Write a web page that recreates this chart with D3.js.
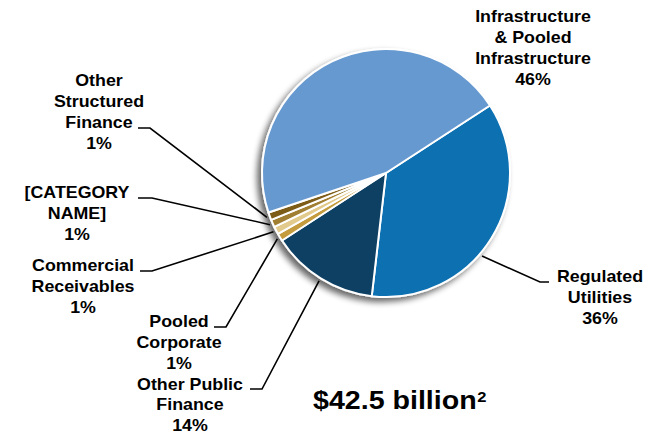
<!DOCTYPE html>
<html>
<head>
<meta charset="utf-8">
<script src="https://cdn.jsdelivr.net/npm/d3@7"></script>
<style>
  html, body { margin: 0; padding: 0; background: #fff; }
  svg { display: block; }
  text { font-family: "Liberation Sans", Arial, sans-serif; font-weight: bold; fill: #000; }
</style>
</head>
<body>
<svg id="chart" width="659" height="435"></svg>
<script>
// Portfolio composition, clockwise from the Regulated Utilities wedge
const categories = [
  "Regulated Utilities",
  "Other Public Finance",
  "Pooled Corporate",
  "Commercial Receivables",
  "[CATEGORY NAME]",
  "Other Structured Finance",
  "Infrastructure & Pooled Infrastructure"
];
const shares = [36, 14, 1, 1, 1, 1, 46];
const sliceColors = ["#0A6FB1", "#0C4064", "#C49B3D", "#E2CA8C", "#A07E31", "#7C5C19", "#6699D0"];
const totalLabel = "$42.5 billion";
const totalNote = "2";

// Label text lines (the share is appended as the last line)
const labelLines = [
  ["Regulated", "Utilities"],
  ["Other Public", "Finance"],
  ["Pooled", "Corporate"],
  ["Commercial", "Receivables"],
  ["[CATEGORY", "NAME]"],
  ["Other", "Structured", "Finance"],
  ["Infrastructure", "& Pooled", "Infrastructure"]
];

// Label placement: centre x, first baseline, line gap, leader elbow, and where along the wedge the leader lands
const labelLayout = [
  { x: 600, y: 282, gap: 21,   elbow: [[549, 282], [540, 282]], at: 0.57 },
  { x: 190, y: 390, gap: 20.5, elbow: [[250, 389], [262, 389]], at: 0.5 },
  { x: 179, y: 327, gap: 21,   elbow: [[214, 327], [226, 327]], at: 0.5 },
  { x: 83,  y: 271, gap: 21,   elbow: [[140, 271], [152, 271]], at: 0.5 },
  { x: 77,  y: 198, gap: 21,   elbow: [[138, 198], [152, 198]], at: 0.5 },
  { x: 99,  y: 86,  gap: 21,   elbow: [[138, 128], [150, 128]], at: 0.5 },
  { x: 533, y: 22,  gap: 21,   elbow: null, at: 0.5 }
];

const cx = 386, cy = 173, R = 124;
const textScale = 1.08;

const svg = d3.select("#chart");

// Soft drop shadow cast down and to the left
const defs = svg.append("defs");
const shadow = defs.append("filter").attr("id", "pieShadow")
  .attr("x", "-20%").attr("y", "-20%").attr("width", "140%").attr("height", "140%");
shadow.append("feGaussianBlur").attr("in", "SourceAlpha").attr("stdDeviation", 3).attr("result", "blur");
shadow.append("feOffset").attr("in", "blur").attr("dx", -4).attr("dy", 4).attr("result", "off");
shadow.append("feComponentTransfer").attr("in", "off").attr("result", "shade")
  .append("feFuncA").attr("type", "linear").attr("slope", 0.6);
const merge = shadow.append("feMerge");
merge.append("feMergeNode").attr("in", "shade");
merge.append("feMergeNode").attr("in", "SourceGraphic");

const start = 57 * Math.PI / 180;
const pie = d3.pie().sort(null).value(d => d)
  .startAngle(start).endAngle(start + 2 * Math.PI);
const arcs = pie(shares);
const arc = d3.arc().innerRadius(0).outerRadius(R);

const g = svg.append("g").attr("transform", `translate(${cx},${cy})`);
g.append("g").attr("filter", "url(#pieShadow)")
  .selectAll("path")
  .data(arcs)
  .join("path")
  .attr("d", arc)
  .attr("fill", (d, i) => sliceColors[i])
  .attr("stroke", "#fff")
  .attr("stroke-width", 2)
  .attr("stroke-linejoin", "round");

// Leader lines from each label elbow to the rim of its wedge
const rimR = R + 3;
arcs.forEach((d, i) => {
  const L = labelLayout[i];
  if (!L.elbow) return;
  const a = d.startAngle + (d.endAngle - d.startAngle) * L.at;
  const px = cx + rimR * Math.sin(a);
  const py = cy - rimR * Math.cos(a);
  const pts = [L.elbow[0], L.elbow[1], [px, py]];
  svg.append("path")
    .attr("d", d3.line()(pts))
    .attr("fill", "none")
    .attr("stroke", "#000")
    .attr("stroke-width", 1.6);
});

// Category labels with their shares
labelLayout.forEach((L, i) => {
  const lines = labelLines[i].concat([shares[i] + "%"]);
  const t = svg.append("g")
    .attr("transform", `translate(${L.x},${L.y}) scale(${textScale},1)`)
    .append("text")
    .attr("text-anchor", "middle")
    .style("font-size", "16.5px");
  lines.forEach((s, k) => {
    t.append("tspan").attr("x", 0).attr("y", k * L.gap).text(s);
  });
});

// Portfolio total with footnote marker
const total = svg.append("g")
  .attr("transform", `translate(313,409) scale(1.1,1)`)
  .append("text")
  .style("font-size", "26px");
total.append("tspan").text(totalLabel);
total.append("tspan").attr("dx", 0.5).attr("dy", -7).style("font-size", "15px").text(totalNote);
</script>
</body>
</html>
